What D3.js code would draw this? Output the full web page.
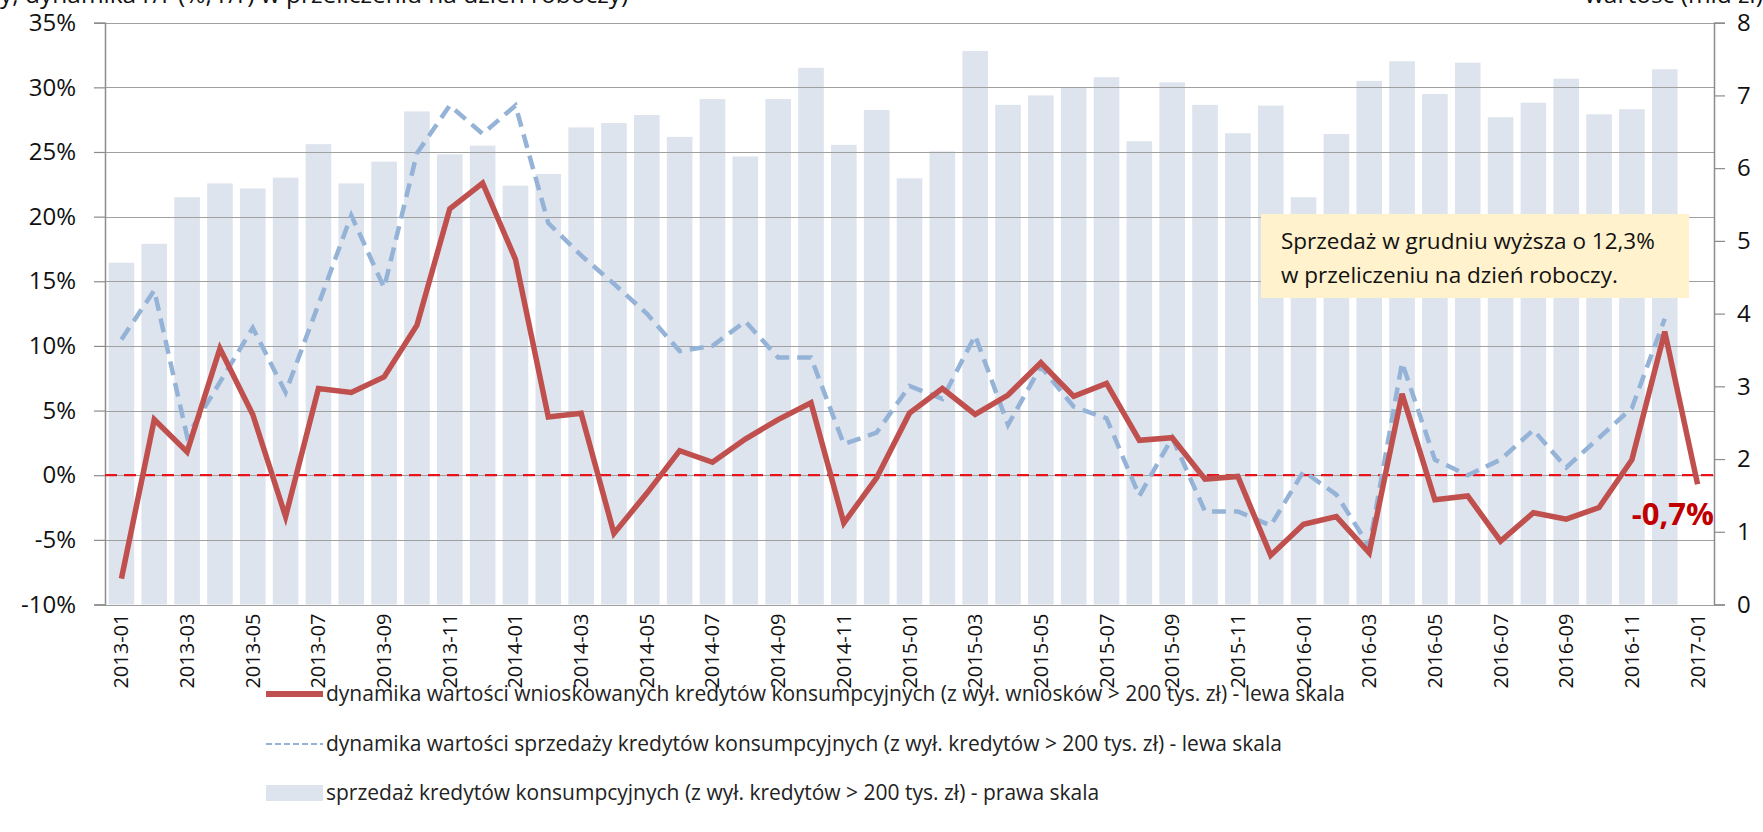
<!DOCTYPE html>
<html>
<head>
<meta charset="utf-8">
<script src="https://cdn.jsdelivr.net/npm/d3@7"></script>
<style>
  body { margin: 0; background: #fff; }
  svg { display: block; font-family: "Open Sans", sans-serif; }
</style>
</head>
<body>
<script>
// months on the category axis
var months = ["2013-01","2013-02","2013-03","2013-04","2013-05","2013-06","2013-07","2013-08","2013-09","2013-10","2013-11","2013-12",
  "2014-01","2014-02","2014-03","2014-04","2014-05","2014-06","2014-07","2014-08","2014-09","2014-10","2014-11","2014-12",
  "2015-01","2015-02","2015-03","2015-04","2015-05","2015-06","2015-07","2015-08","2015-09","2015-10","2015-11","2015-12",
  "2016-01","2016-02","2016-03","2016-04","2016-05","2016-06","2016-07","2016-08","2016-09","2016-10","2016-11","2016-12",
  "2017-01"];

// dynamika wnioskow (%), lewa skala
var wnioski = [-8.0, 4.3, 1.8, 9.8, 4.7, -3.2, 6.7, 6.4, 7.6, 11.6, 20.6, 22.6,
  16.7, 4.5, 4.8, -4.5, -1.4, 1.9, 1.0, 2.8, 4.3, 5.6, -3.7, -0.2,
  4.8, 6.7, 4.7, 6.2, 8.7, 6.1, 7.1, 2.7, 2.9, -0.3, -0.1, -6.2,
  -3.8, -3.2, -6.0, 6.3, -1.9, -1.6, -5.1, -2.9, -3.4, -2.5, 1.2, 11.1,
  -0.7];

// dynamika sprzedazy (%), lewa skala
var sprzedazDyn = [10.5, 14.3, 3.0, 7.2, 11.4, 6.4, 13.2, 20.1, 14.5, 24.9, 28.6, 26.4,
  28.6, 19.5, 17.0, 14.8, 12.5, 9.6, 10.0, 11.9, 9.1, 9.1, 2.4, 3.3,
  6.9, 5.9, 10.8, 3.9, 8.4, 5.3, 4.4, -1.6, 2.9, -2.8, -2.8, -3.9,
  0.3, -1.5, -5.5, 8.7, 1.2, 0.0, 1.2, 3.5, 0.6, 2.9, 5.2, 12.1,
  null];

// sprzedaz (mld zl), prawa skala
var sprzedaz = [4.70, 4.96, 5.60, 5.79, 5.72, 5.87, 6.33, 5.79, 6.09, 6.78, 6.19, 6.31,
  5.76, 5.92, 6.56, 6.62, 6.73, 6.43, 6.95, 6.16, 6.95, 7.38, 6.32, 6.80,
  5.86, 6.23, 7.61, 6.87, 7.00, 7.11, 7.25, 6.37, 7.18, 6.87, 6.48, 6.86,
  5.60, 6.47, 7.20, 7.47, 7.02, 7.45, 6.70, 6.90, 7.23, 6.74, 6.81, 7.36];

var leftTicks = [-10, -5, 0, 5, 10, 15, 20, 25, 30, 35];
var rightTicks = [0, 1, 2, 3, 4, 5, 6, 7, 8];

var legendLabels = [
  "dynamika wartości wnioskowanych kredytów konsumpcyjnych (z wył. wniosków > 200 tys. zł) - lewa skala",
  "dynamika wartości sprzedaży kredytów konsumpcyjnych (z wył. kredytów > 200 tys. zł) - lewa skala",
  "sprzedaż kredytów konsumpcyjnych (z wył. kredytów > 200 tys. zł) - prawa skala"
];

var width = 1763,
    height = 832,
    pLeft = 105, pRight = 1714, pTop = 22.7, pBottom = 604.5;

var svg = d3.select("body").append("svg")
    .attr("width", width)
    .attr("height", height);

var x = d3.scaleBand().domain(months).range([pLeft, pRight]).paddingInner(0.22).paddingOuter(0.11);
var yL = d3.scaleLinear().domain([-10, 35]).range([pBottom, pTop]);
var yR = d3.scaleLinear().domain([0, 8]).range([pBottom, pTop]);
var cx = function(m) { return x(m) + x.bandwidth() / 2; };

// title fragments cut at the top edge
svg.append("text").attr("x", 0).attr("y", 3)
    .style("font-size", "24.5px").attr("fill", "#111")
    .text("y, dynamika r/r (%, r/r) w przeliczeniu na dzień roboczy)");
svg.append("text").attr("x", 1763).attr("y", 3).attr("text-anchor", "end")
    .style("font-size", "24.5px").attr("fill", "#111")
    .text("wartość (mld zł)");

// bars
svg.append("g").selectAll("rect")
    .data(sprzedaz)
  .enter().append("rect")
    .attr("x", function(d, i) { return x(months[i]); })
    .attr("width", x.bandwidth())
    .attr("y", function(d) { return yR(d); })
    .attr("height", function(d) { return yR(0) - yR(d); })
    .attr("fill", "#dde4ee");

// gridlines
svg.append("g").selectAll("line")
    .data(leftTicks)
  .enter().append("line")
    .attr("x1", pLeft).attr("x2", pRight)
    .attr("y1", function(d) { return Math.round(yL(d)) + 0.5; })
    .attr("y2", function(d) { return Math.round(yL(d)) + 0.5; })
    .attr("stroke", "#a0a0a0").attr("stroke-width", 1.2);

// left axis
var axL = svg.append("g").attr("transform", "translate(" + pLeft + ",0)")
    .call(d3.axisLeft(yL).tickValues(leftTicks).tickSize(11).tickPadding(18)
      .tickFormat(function(d) { return d + "%"; }));
// right axis
var axR = svg.append("g").attr("transform", "translate(" + pRight + ",0)")
    .call(d3.axisRight(yR).tickValues(rightTicks).tickSize(11).tickPadding(12));
[axL, axR].forEach(function(a) {
  a.select(".domain").attr("stroke", "#8c8c8c").attr("stroke-width", 1.5);
  a.selectAll(".tick line").attr("stroke", "#8c8c8c").attr("stroke-width", 1.2);
  a.selectAll(".tick text").style("font-size", "24px").style("font-family", "'Open Sans', sans-serif").attr("fill", "#111");
});

// x labels (every second month)
svg.append("g").selectAll("text")
    .data(months.filter(function(d, i) { return i % 2 === 0; }))
  .enter().append("text")
    .attr("transform", function(d) { return "translate(" + cx(d) + "," + (pBottom + 9) + ") rotate(-90)"; })
    .attr("text-anchor", "end")
    .attr("dy", "0.35em")
    .style("font-size", "20px")
    .attr("fill", "#111")
    .text(function(d) { return d; });

// zero line
svg.append("line")
    .attr("x1", pLeft).attr("x2", pRight)
    .attr("y1", yL(0)).attr("y2", yL(0))
    .attr("stroke", "#e8141c").attr("stroke-width", 2.2)
    .attr("stroke-dasharray", "12,7");

var line = d3.line()
    .defined(function(d) { return d != null; })
    .x(function(d, i) { return cx(months[i]); })
    .y(function(d) { return yL(d); });

svg.append("path")
    .datum(sprzedazDyn)
    .attr("d", line)
    .attr("fill", "none")
    .attr("stroke", "#95b3d7")
    .attr("stroke-width", 4.5)
    .attr("stroke-dasharray", "14,8");

svg.append("path")
    .datum(wnioski)
    .attr("d", line)
    .attr("fill", "none")
    .attr("stroke", "#c0504d")
    .attr("stroke-width", 5.5)
    .attr("stroke-linejoin", "miter");

// annotation box
svg.append("rect")
    .attr("x", 1261).attr("y", 214).attr("width", 428).attr("height", 84)
    .attr("fill", "#fff2cc");
var note = svg.append("text").attr("x", 1281).attr("y", 249)
    .style("font-size", "22.5px").attr("fill", "#111");
note.append("tspan").text("Sprzedaż w grudniu wyższa o 12,3%");
note.append("tspan").attr("x", 1281).attr("y", 283).text("w przeliczeniu na dzień roboczy.");

// last value label
svg.append("text")
    .attr("x", pRight).attr("y", 525)
    .attr("text-anchor", "end")
    .style("font-size", "31px").style("font-weight", "bold")
    .attr("fill", "#c00000")
    .text("-0,7%");

// legend
var ly = [694, 744, 793];
var lg = svg.append("g");
lg.append("line").attr("x1", 266).attr("x2", 323).attr("y1", ly[0]).attr("y2", ly[0])
    .attr("stroke", "#c0504d").attr("stroke-width", 6);
lg.append("line").attr("x1", 266).attr("x2", 323).attr("y1", ly[1]).attr("y2", ly[1])
    .attr("stroke", "#95b3d7").attr("stroke-width", 2).attr("stroke-dasharray", "6,3");
lg.append("rect").attr("x", 266).attr("y", ly[2] - 8).attr("width", 57).attr("height", 16)
    .attr("fill", "#dde4ee");
lg.selectAll("text")
    .data(legendLabels)
  .enter().append("text")
    .attr("x", 326)
    .attr("y", function(d, i) { return ly[i]; })
    .attr("dy", "0.35em")
    .style("font-size", "21px")
    .attr("fill", "#222")
    .text(function(d) { return d; });
</script>
</body>
</html>
